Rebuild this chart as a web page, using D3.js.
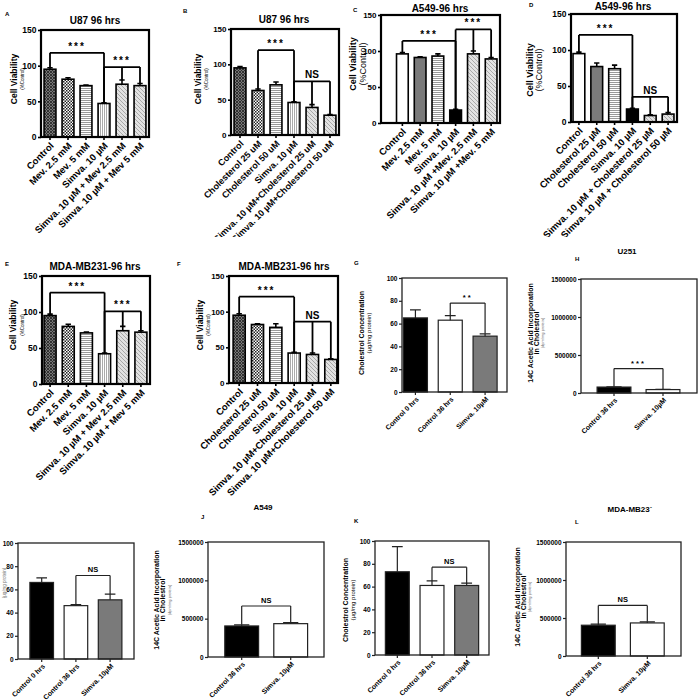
<!DOCTYPE html>
<html>
<head>
<meta charset="utf-8">
<script src="https://cdn.jsdelivr.net/npm/d3@7"></script>
<style>
  body { margin: 0; background: #fff; }
  svg { display: block; font-family: "Liberation Sans", Arial, sans-serif; }
</style>
</head>
<body>
<svg id="fig" width="700" height="700"></svg>
<script>
// ---- category labels ----
const mevLabels = ["Control", "Mev. 2.5 mM", "Mev. 5 mM", "Simva. 10 \u00b5M", "Simva. 10 \u00b5M + Mev 2.5 mM", "Simva. 10 \u00b5M + Mev 5 mM"];
const mevLabelsC = ["Control", "Mev. 2.5 mM", "Mev. 5 mM", "Simva. 10 \u00b5M", "Simva. 10 \u00b5M +Mev. 2.5 mM", "Simva. 10 \u00b5M +Mev. 5 mM"];
const cholLabels = ["Control", "Cholesterol 25 uM", "Cholesterol 50 uM", "Simva. 10 \u00b5M", "Simva. 10 \u00b5M+Cholesterol 25 uM", "Simva. 10 \u00b5M+Cholesterol 50 uM"];
const cholLabelsD = ["Control", "Cholesterol 25 \u00b5M", "Cholesterol 50 \u00b5M", "Simva. 10 \u00b5M", "Simva. 10 \u00b5M + Cholesterol 25 \u00b5M", "Simva. 10 \u00b5M + Cholesterol 50 \u00b5M"];
const concLabels = ["Control 0 hrs", "Control 36 hrs", "Simva. 10\u00b5M"];
const acetLabels = ["Control 36 hrs", "Simva. 10\u00b5M"];

// ---- tick values ----
const viabTicks = [0, 50, 100, 150];
const concTicks = [0, 20, 40, 60, 80, 100];
const acetTicks = [0, 500000, 1000000, 1500000];

// ---- means and SEM ----
const valuesA = [95, 81, 72, 47, 74, 72];
const errorsA = [2, 2, 1, 1, 6, 3];
const valuesB = [95, 63, 71, 46, 39, 28];
const errorsB = [2, 2, 4, 1, 4, 1];
const valuesC = [96, 91, 93, 18, 96, 89];
const errorsC = [2, 1, 3, 1, 4, 2];
const valuesD = [95, 77, 74, 18, 9, 11];
const errorsD = [2, 5, 5, 1, 1, 2];
const valuesE = [95, 80, 71, 42, 74, 72];
const errorsE = [2, 3, 1, 1, 6, 2];
const valuesF = [95, 82, 78, 42, 40, 33];
const errorsF = [2, 1, 5, 1, 2, 1];
const valuesG = [65, 63, 49];
const errorsG = [7, 4, 2];
const valuesH = [78000, 45000];
const errorsH = [4000, 3000];
const valuesI = [66, 46, 51];
const errorsI = [4, 1, 5];
const valuesJ = [405000, 435000];
const errorsJ = [15000, 15000];
const valuesK = [73, 61, 61];
const errorsK = [22, 4, 2];
const valuesL = [405000, 435000];
const errorsL = [15000, 15000];

// ---- significance brackets: bars joined, bracket height, mark ----
const sigA = [{bars: [0, 3], at: 118, text: "***"}, {bars: [3, 4, 5], at: 98, text: "***"}];
const sigB = [{bars: [1, 3], at: 120, text: "***"}, {bars: [3, 4, 5], at: 76, text: "NS"}];
const sigC = [{bars: [0, 3], at: 114, text: "***"}, {bars: [3, 4, 5], at: 130, text: "***"}];
const sigD = [{bars: [0, 3], at: 121, text: "***"}, {bars: [3, 4, 5], at: 35, text: "NS"}];
const sigE = [{bars: [0, 3], at: 127, text: "***"}, {bars: [3, 4, 5], at: 101, text: "***"}];
const sigF = [{bars: [0, 3], at: 121, text: "***"}, {bars: [3, 4, 5], at: 86, text: "NS"}];
const sigG = [{bars: [1, 2], at: 78, text: "**"}];
const sigH = [{bars: [0, 1], at: 322000, text: "***"}];
const sigI = [{bars: [1, 2], at: 72, text: "NS"}];
const sigJ = [{bars: [0, 1], at: 665000, text: "NS"}];
const sigK = [{bars: [1, 2], at: 77, text: "NS"}];
const sigL = [{bars: [0, 1], at: 665000, text: "NS"}];

const svg = d3.select("#fig");
svg.append("rect").attr("width", 700).attr("height", 700).attr("fill", "#fff");
const defs = svg.append("defs");

// the top row of panels is cropped just under its labels
defs.append("clipPath").attr("id", "topRowClip")
  .append("rect").attr("x", 0).attr("y", 0).attr("width", 700).attr("height", 237);

// fill patterns like the GraphPad ones
function addPattern(id, w, h, bg, build) {
  const pt = defs.append("pattern").attr("id", id)
    .attr("width", w).attr("height", h).attr("patternUnits", "userSpaceOnUse");
  pt.append("rect").attr("width", w).attr("height", h).attr("fill", bg);
  build(pt);
}
addPattern("ctrl", 3, 3, "#777", pt => pt.append("path")
  .attr("d", "M0,0L3,3M3,0L0,3").attr("stroke", "#2a2a2a").attr("stroke-width", 0.9));
addPattern("checker", 3, 3, "#fff", pt => {
  pt.append("rect").attr("width", 1.5).attr("height", 1.5).attr("fill", "#222");
  pt.append("rect").attr("x", 1.5).attr("y", 1.5).attr("width", 1.5).attr("height", 1.5).attr("fill", "#222");
});
addPattern("hlines", 4, 2, "#fff", pt => pt.append("path")
  .attr("d", "M0,0.5H4").attr("stroke", "#999").attr("stroke-width", 1));
addPattern("vlines", 2, 4, "#fff", pt => pt.append("path")
  .attr("d", "M0.5,0V4").attr("stroke", "#aaa").attr("stroke-width", 1));
addPattern("diag", 4, 4, "#e2e2e2", pt => pt.append("path")
  .attr("d", "M0,0L4,4M-1,3L1,5M3,-1L5,1").attr("stroke", "#999").attr("stroke-width", 0.8));

const patFills = ["url(#ctrl)", "url(#checker)", "url(#hlines)", "url(#vlines)", "url(#diag)", "url(#diag)"];
const plainFills = ["#fff", "#7a7a7a", "url(#hlines)", "#000", "url(#diag)", "url(#diag)"];
const threeFills = ["#000", "#fff", "#7a7a7a"];
const twoFills = ["#000", "#fff"];

const viabLab = (x1, x2, s1, s2) => [
  {text: "Cell Viability", x: x1, size: s1, bold: true},
  {text: "(%Control)", x: x2, size: s2, bold: false}
];
const concLab = (x1, x2) => [
  {text: "Cholestrol Concentration", x: x1, size: 7, bold: true},
  {text: "(\u00b5g/mg protein)", x: x2, size: 6, bold: false}
];
const acetLab = (x1, x2, x3) => [
  {text: "14C Acetic Acid Incorporation", x: x1, size: 7, bold: true},
  {text: "in Cholestrol", x: x2, size: 7, bold: true},
  {text: "(dpm/mg protein)", x: x3, size: 4, bold: false, fill: "#666"}
];

const panels = [
  {letter: "A", lp: [5, 16], title: "U87 96 hrs", tp: [95, 24], left: 41, right: 149, top: 30, bottom: 137,
   band: [41, 149], pad: 0.34, max: 150, ticks: viabTicks, labels: mevLabels, values: valuesA, errors: errorsA,
   sig: sigA, fills: patFills, ylab: viabLab(17, 24, 8.5, 4.5), ymid: 79, fs: 9.5, tf: 8.5, heavy: true, clip: true},
  {letter: "B", lp: [183, 13], title: "U87 96 hrs", tp: [284, 23], left: 231, right: 339, top: 29, bottom: 135,
   band: [231, 339], pad: 0.34, max: 150, ticks: viabTicks, labels: cholLabels, values: valuesB, errors: errorsB,
   sig: sigB, fills: patFills, ylab: viabLab(201, 208, 8.5, 4.5), ymid: 79, fs: 9, tf: 8, heavy: true, clip: true},
  {letter: "C", lp: [353, 12], title: "A549-96 hrs", tp: [440, 12], left: 381, right: 500, top: 15, bottom: 123,
   band: [393.5, 500], pad: 0.34, max: 150, ticks: viabTicks, labels: mevLabelsC, values: valuesC, errors: errorsC,
   sig: sigC, fills: plainFills, ylab: viabLab(356, 366, 9, 9), ymid: 64, fs: 9.5, tf: 8, heavy: true, clip: true},
  {letter: "D", lp: [529, 7], title: "A549-96 hrs", tp: [623, 10], left: 571, right: 677, top: 14, bottom: 122,
   band: [570, 677], pad: 0.34, max: 150, ticks: viabTicks, labels: cholLabelsD, values: valuesD, errors: errorsD,
   sig: sigD, fills: plainFills, ylab: viabLab(533, 542, 9, 9), ymid: 70, fs: 9.5, tf: 8.5, heavy: true, clip: true},
  {letter: "E", lp: [5, 266], title: "MDA-MB231-96 hrs", tp: [95, 270], left: 42, right: 150, top: 276, bottom: 384,
   band: [41, 150], pad: 0.34, max: 150, ticks: viabTicks, labels: mevLabels, values: valuesE, errors: errorsE,
   sig: sigE, fills: patFills, ylab: viabLab(16, 24, 8.5, 4.5), ymid: 325, fs: 9.5, tf: 8.5, heavy: true},
  {letter: "F", lp: [177, 266], title: "MDA-MB231-96 hrs", tp: [284, 270], left: 229, right: 338, top: 276, bottom: 383,
   band: [230, 340], pad: 0.34, max: 150, ticks: viabTicks, labels: cholLabels, values: valuesF, errors: errorsF,
   sig: sigF, fills: patFills, ylab: viabLab(203, 210, 8.5, 4.5), ymid: 325, fs: 9.5, tf: 8, heavy: true},
  {letter: "G", lp: [354, 265], title: "", tp: [0, 0], left: 402, right: 507, top: 278, bottom: 392,
   band: [398, 502.5], pad: 0.31, max: 100, ticks: concTicks, labels: concLabels, values: valuesG, errors: errorsG,
   sig: sigG, fills: threeFills, ylab: concLab(364, 371), ymid: 333, fs: 7, tf: 6.5, heavy: false},
  {letter: "H", lp: [575, 261], title: "U251", tp: [627, 254], left: 581, right: 697, top: 279, bottom: 393,
   band: [589.5, 687.5], pad: 0.31, max: 1500000, ticks: acetTicks, labels: acetLabels, values: valuesH, errors: errorsH,
   sig: sigH, fills: twoFills, ylab: acetLab(533, 539, 544), ymid: 333, fs: 7, tf: 6.5, heavy: false},
  {letter: "", lp: [0, 0], title: "", tp: [0, 0], left: 18, right: 134, top: 543, bottom: 659,
   band: [24.6, 127.2], pad: 0.31, max: 100, ticks: concTicks, labels: concLabels, values: valuesI, errors: errorsI,
   sig: sigI, fills: threeFills, ylab: [{text: "(\u00b5g/mg protein)", x: 6, size: 4.5, bold: false, fill: "#777"}],
   ymid: 583, fs: 7, tf: 6.5, heavy: false},
  {letter: "J", lp: [201, 519], title: "A549", tp: [263, 510], left: 208, right: 324, top: 542, bottom: 657,
   band: [217.2, 315.2], pad: 0.31, max: 1500000, ticks: acetTicks, labels: acetLabels, values: valuesJ, errors: errorsJ,
   sig: sigJ, fills: twoFills, ylab: acetLab(159, 165, 171), ymid: 600, fs: 7, tf: 6.5, heavy: false},
  {letter: "K", lp: [354, 523], title: "", tp: [0, 0], left: 375, right: 489, top: 541, bottom: 655,
   band: [380, 484], pad: 0.31, max: 100, ticks: concTicks, labels: concLabels, values: valuesK, errors: errorsK,
   sig: sigK, fills: threeFills, ylab: concLab(348, 355), ymid: 600, fs: 7, tf: 6.5, heavy: false},
  {letter: "L", lp: [575, 524], title: "MDA-MB23`", tp: [630, 512], left: 566, right: 681, top: 542, bottom: 656,
   band: [573.8, 671.8], pad: 0.31, max: 1500000, ticks: acetTicks, labels: acetLabels, values: valuesL, errors: errorsL,
   sig: sigL, fills: twoFills, ylab: acetLab(520, 526, 531), ymid: 597, fs: 7, tf: 6.5, heavy: false}
];

function drawPanel(p) {
  const g = svg.append("g");
  const ink = p.heavy ? "#000" : "#222";
  const lw = p.heavy ? 1.6 : 1.2;

  const y = d3.scaleLinear().domain([0, p.max]).range([p.bottom, p.top]);
  const x = d3.scaleBand().domain(d3.range(p.values.length)).range(p.band)
    .paddingInner(p.pad).paddingOuter(p.pad / 2);
  const cx = i => x(i) + x.bandwidth() / 2;
  const topOf = i => y(p.values[i] + p.errors[i]);

  // bars
  g.selectAll(".bar").data(p.values).join("rect").attr("class", "bar")
    .attr("x", (d, i) => x(i)).attr("y", d => y(d))
    .attr("width", x.bandwidth()).attr("height", d => p.bottom - y(d))
    .attr("fill", (d, i) => p.fills[i])
    .attr("stroke", ink).attr("stroke-width", lw);

  // error bars (upper only)
  const cap = x.bandwidth() * 0.45;
  g.selectAll(".err").data(p.values).join("path").attr("class", "err")
    .attr("d", (d, i) => `M${cx(i)},${y(d)}V${topOf(i)}M${cx(i) - cap / 2},${topOf(i)}H${cx(i) + cap / 2}`)
    .attr("fill", "none").attr("stroke", ink).attr("stroke-width", lw);

  // brackets
  p.sig.forEach(s => {
    const hy = y(s.at);
    const a = cx(s.bars[0]), b = cx(s.bars[s.bars.length - 1]);
    let d = `M${a},${hy}H${b}`;
    s.bars.forEach(i => { d += `M${cx(i)},${hy}V${topOf(i)}`; });
    g.append("path").attr("d", d).attr("fill", "none").attr("stroke", ink).attr("stroke-width", p.heavy ? 1.8 : 1.2);
    g.append("text").attr("x", (a + b) / 2).attr("y", hy - 3)
      .attr("text-anchor", "middle").attr("font-weight", "bold")
      .attr("font-size", p.heavy ? 10 : 7.5).attr("letter-spacing", s.text === "NS" ? 0 : 2)
      .text(s.text);
  });

  // frame
  g.append("rect").attr("x", p.left).attr("y", p.top)
    .attr("width", p.right - p.left).attr("height", p.bottom - p.top)
    .attr("fill", "none").attr("stroke", ink).attr("stroke-width", p.heavy ? 2.2 : 1.3);

  // y axis
  const ya = g.append("g").attr("transform", `translate(${p.left},0)`)
    .call(d3.axisLeft(y).tickValues(p.ticks).tickSize(3).tickPadding(1.5).tickFormat(d3.format("d")));
  ya.select(".domain").remove();
  ya.selectAll("line").attr("stroke", ink).attr("stroke-width", lw);
  ya.selectAll("text").attr("font-size", p.tf).attr("font-weight", "bold")
    .attr("font-family", "Liberation Sans, Arial, sans-serif").attr("fill", "#000");

  // x axis with slanted labels
  const xa = g.append("g").attr("transform", `translate(0,${p.bottom})`)
    .call(d3.axisBottom(x).tickSize(3).tickFormat(i => p.labels[i]));
  xa.select(".domain").remove();
  xa.selectAll("line").attr("stroke", ink).attr("stroke-width", lw);
  xa.selectAll("text").attr("x", 0).attr("y", 0).attr("dy", "0.35em")
    .attr("transform", `translate(2,${p.heavy ? 7 : 6}) rotate(-45)`)
    .style("text-anchor", "end")
    .attr("font-size", p.fs).attr("font-weight", "bold")
    .attr("font-family", "Liberation Sans, Arial, sans-serif").attr("fill", "#000");
  if (p.clip) {
    // wrap the axis in a clipped group so the long labels stop at the crop line
    const holder = g.append("g").attr("clip-path", "url(#topRowClip)");
    holder.node().appendChild(xa.node());
  }

  // y labels
  p.ylab.forEach(l => {
    g.append("text").attr("transform", `translate(${l.x},${p.ymid}) rotate(-90)`)
      .attr("text-anchor", "middle").attr("font-size", l.size)
      .attr("font-weight", l.bold ? "bold" : "normal").attr("fill", l.fill || "#000")
      .text(l.text);
  });

  if (p.title) {
    g.append("text").attr("x", p.tp[0]).attr("y", p.tp[1]).attr("text-anchor", "middle")
      .attr("font-size", p.heavy ? 10 : 8).attr("font-weight", "bold").text(p.title);
  }
  if (p.letter) {
    g.append("text").attr("x", p.lp[0]).attr("y", p.lp[1])
      .attr("font-size", 6).attr("font-weight", "bold").text(p.letter);
  }
}

panels.forEach(drawPanel);
</script>
</body>
</html>
